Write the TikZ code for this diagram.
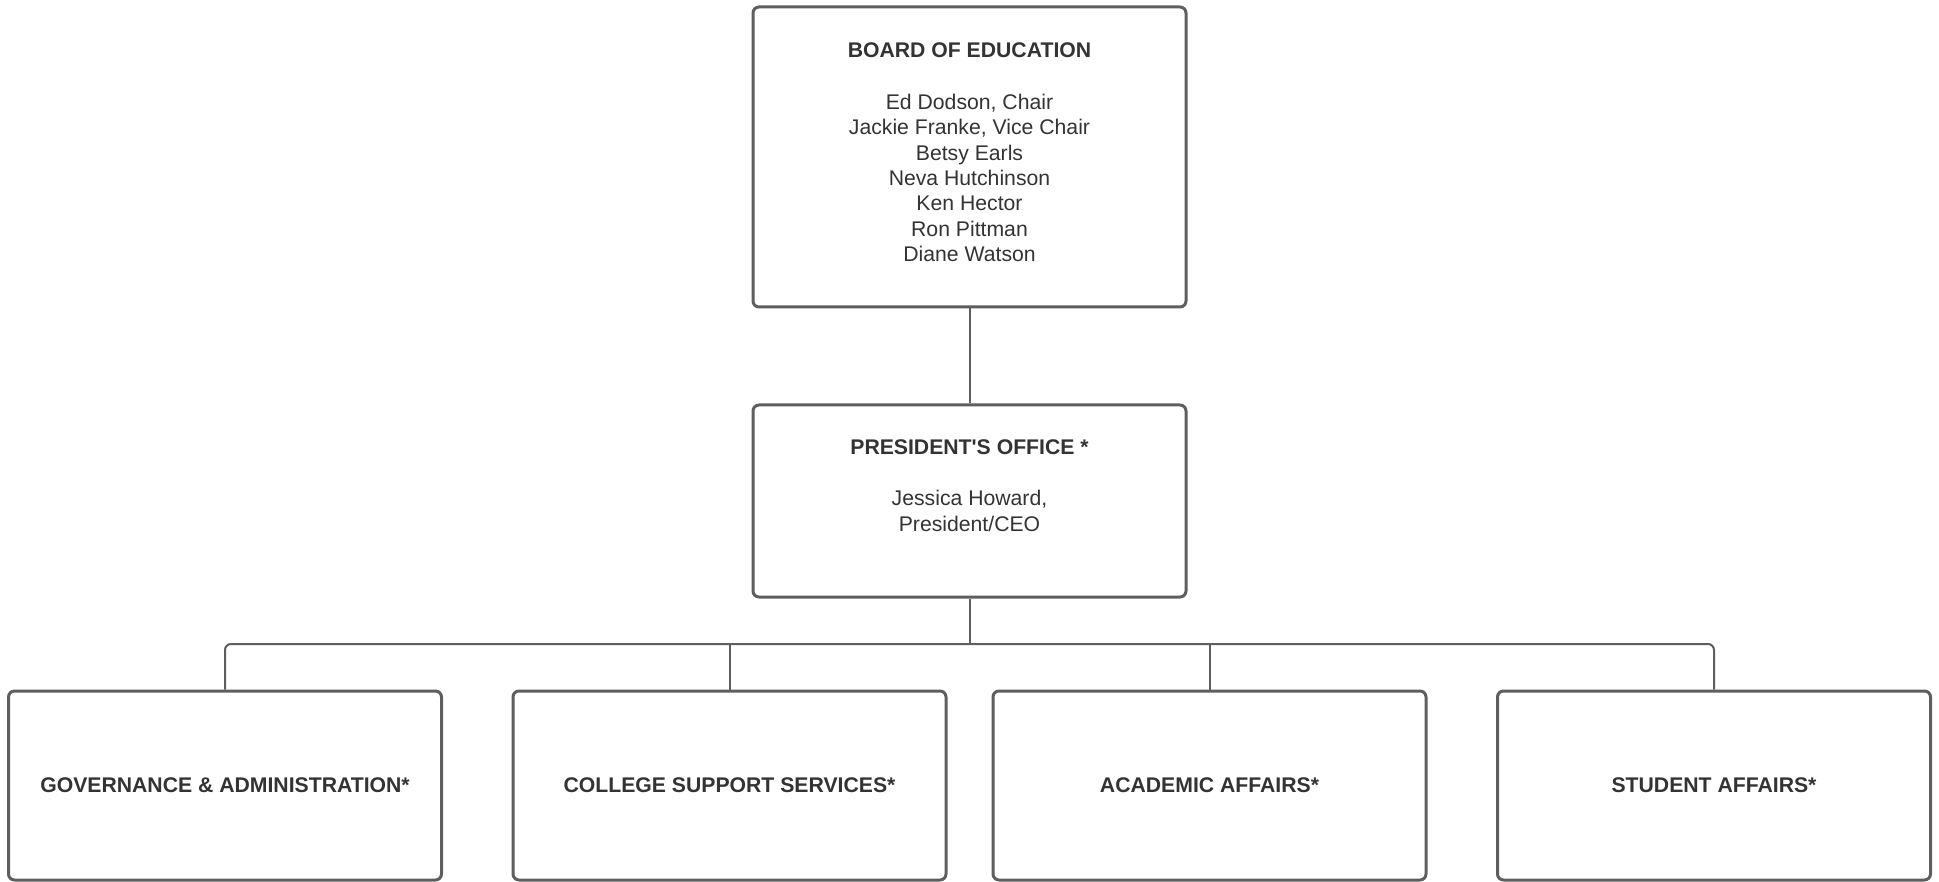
\documentclass[tikz,border=0pt]{standalone}
\usepackage{fontspec}
\setmainfont{Liberation Sans}
\definecolor{edge}{HTML}{5E5E5E}
\definecolor{ink}{HTML}{333333}
\begin{document}
\begin{tikzpicture}[x=1pt,y=-1pt,
  box/.style={draw=edge, line width=3pt, rounded corners=6pt, minimum width=433pt, inner sep=0pt, fill=white},
  txt/.style={text=ink, align=center, inner sep=0pt, font=\fontsize{21.2}{25.4}\selectfont},
  ttl/.style={txt, font=\fontsize{21.2}{25.4}\selectfont\bfseries},
  conn/.style={draw=edge, line width=2pt}]
\useasboundingbox (0,0) rectangle (1939,882);
% boxes
\node[box, minimum height=300pt] (board) at (969.5,157) {};
\node[box, minimum height=192pt] (pres) at (969.5,501) {};
\node[box, minimum height=189pt] (gov) at (225,785.5) {};
\node[box, minimum height=189pt] (css) at (729.5,785.5) {};
\node[box, minimum height=189pt] (aca) at (1209.5,785.5) {};
\node[box, minimum height=189pt] (stu) at (1714,785.5) {};
% texts
\node[ttl] (boardt) at (969.5,50) {BOARD OF EDUCATION};
\node[txt] (boardm) at (969.5,178) {Ed Dodson, Chair\\Jackie Franke, Vice Chair\\Betsy Earls\\Neva Hutchinson\\Ken Hector\\Ron Pittman\\Diane Watson};
\node[ttl] (prest) at (969.5,447) {PRESIDENT\textquotesingle S OFFICE *};
\node[txt] (presm) at (969.5,511) {Jessica Howard,\\President/CEO};
\node[ttl] (govt) at (gov.center) {GOVERNANCE \& ADMINISTRATION*};
\node[ttl] (csst) at (css.center) {COLLEGE SUPPORT SERVICES*};
\node[ttl] (acat) at (aca.center) {ACADEMIC AFFAIRS*};
\node[ttl] (stut) at (stu.center) {STUDENT AFFAIRS*};
% connectors
\coordinate (bus) at (969.5,644);
\draw[conn] (board.south) -- (pres.north);
\draw[conn] (pres.south) -- (bus);
\draw[conn, rounded corners=6pt] (gov.north) -- (gov.north |- bus) -- (stu.north |- bus) -- (stu.north);
\draw[conn] (css.north |- bus) -- (css.north);
\draw[conn] (aca.north |- bus) -- (aca.north);
\end{tikzpicture}
\end{document}
